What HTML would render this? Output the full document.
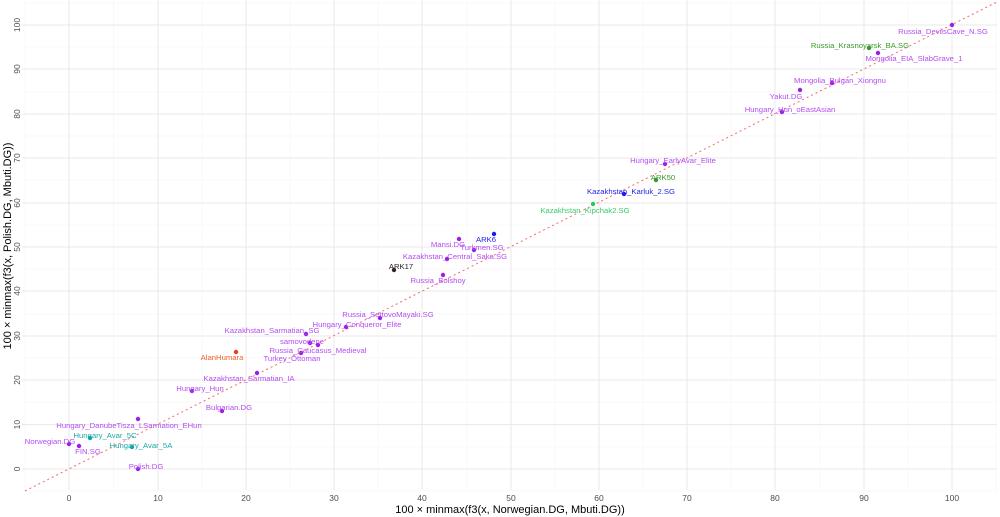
<!DOCTYPE html>
<html><head><meta charset="utf-8"><style>body{margin:0;background:#fff}svg{display:block}</style></head><body>
<svg width="1000" height="517" xmlns="http://www.w3.org/2000/svg" font-family="Liberation Sans, sans-serif">
<rect width="1000" height="517" fill="#fff"/>
<g stroke="#f3f3f3" stroke-width="0.6">
<line x1="25" y1="0" x2="25" y2="490"/><line x1="113.5" y1="0" x2="113.5" y2="490"/><line x1="202" y1="0" x2="202" y2="490"/><line x1="290" y1="0" x2="290" y2="490"/><line x1="378" y1="0" x2="378" y2="490"/><line x1="467" y1="0" x2="467" y2="490"/><line x1="555" y1="0" x2="555" y2="490"/><line x1="643" y1="0" x2="643" y2="490"/><line x1="731" y1="0" x2="731" y2="490"/><line x1="820" y1="0" x2="820" y2="490"/><line x1="908" y1="0" x2="908" y2="490"/><line x1="996" y1="0" x2="996" y2="490"/>
<line x1="22" y1="491" x2="997" y2="491"/><line x1="22" y1="447" x2="997" y2="447"/><line x1="22" y1="402" x2="997" y2="402"/><line x1="22" y1="358" x2="997" y2="358"/><line x1="22" y1="314" x2="997" y2="314"/><line x1="22" y1="269" x2="997" y2="269"/><line x1="22" y1="225" x2="997" y2="225"/><line x1="22" y1="180" x2="997" y2="180"/><line x1="22" y1="136" x2="997" y2="136"/><line x1="22" y1="92" x2="997" y2="92"/><line x1="22" y1="47" x2="997" y2="47"/><line x1="22" y1="3" x2="997" y2="3"/>
</g>
<g stroke="#e8e8e8" stroke-width="1">
<line x1="69" y1="0" x2="69" y2="490"/><line x1="158" y1="0" x2="158" y2="490"/><line x1="246" y1="0" x2="246" y2="490"/><line x1="334" y1="0" x2="334" y2="490"/><line x1="422" y1="0" x2="422" y2="490"/><line x1="511" y1="0" x2="511" y2="490"/><line x1="599" y1="0" x2="599" y2="490"/><line x1="687" y1="0" x2="687" y2="490"/><line x1="775" y1="0" x2="775" y2="490"/><line x1="864" y1="0" x2="864" y2="490"/><line x1="952" y1="0" x2="952" y2="490"/>
<line x1="22" y1="469" x2="997" y2="469"/><line x1="22" y1="424.6" x2="997" y2="424.6"/><line x1="22" y1="380" x2="997" y2="380"/><line x1="22" y1="336" x2="997" y2="336"/><line x1="22" y1="291" x2="997" y2="291"/><line x1="22" y1="247" x2="997" y2="247"/><line x1="22" y1="203" x2="997" y2="203"/><line x1="22" y1="158" x2="997" y2="158"/><line x1="22" y1="114" x2="997" y2="114"/><line x1="22" y1="69" x2="997" y2="69"/><line x1="22" y1="25" x2="997" y2="25"/>
</g>
<line x1="25" y1="491" x2="997" y2="2" stroke="#f26b6b" stroke-width="1" stroke-dasharray="2,3"/>
<g font-size="8.5" fill="#4d4d4d" text-anchor="middle">
<text x="69" y="501">0</text><text x="158" y="501">10</text><text x="246" y="501">20</text><text x="334" y="501">30</text><text x="422" y="501">40</text><text x="511" y="501">50</text><text x="599" y="501">60</text><text x="687" y="501">70</text><text x="775" y="501">80</text><text x="864" y="501">90</text><text x="952" y="501">100</text>
</g>
<g font-size="8.5" fill="#4d4d4d" text-anchor="middle">
<text transform="translate(20,469) rotate(-90)">0</text><text transform="translate(20,424.6) rotate(-90)">10</text><text transform="translate(20,380) rotate(-90)">20</text><text transform="translate(20,336) rotate(-90)">30</text><text transform="translate(20,291) rotate(-90)">40</text><text transform="translate(20,247) rotate(-90)">50</text><text transform="translate(20,203) rotate(-90)">60</text><text transform="translate(20,158) rotate(-90)">70</text><text transform="translate(20,114) rotate(-90)">80</text><text transform="translate(20,69) rotate(-90)">90</text><text transform="translate(20,25) rotate(-90)">100</text>
</g>
<text x="510" y="513" font-size="11" text-anchor="middle" fill="#000">100 × minmax(f3(x, Norwegian.DG, Mbuti.DG))</text>
<text transform="translate(11,246) rotate(-90)" font-size="11" text-anchor="middle" fill="#000">100 × minmax(f3(x, Polish.DG, Mbuti.DG))</text>
<g fill="#9b1fe8">
<circle cx="69" cy="444" r="2.2"/><circle cx="79" cy="446" r="2.2"/><circle cx="138" cy="469" r="2.2"/><circle cx="138" cy="419" r="2.2"/><circle cx="192" cy="391" r="2.2"/><circle cx="222" cy="411" r="2.2"/><circle cx="257" cy="373" r="2.2"/><circle cx="301" cy="353" r="2.2"/><circle cx="318" cy="345" r="2.2"/><circle cx="310" cy="343" r="2.2"/><circle cx="306" cy="334" r="2.2"/><circle cx="346" cy="327" r="2.2"/><circle cx="380" cy="318" r="2.2"/><circle cx="443" cy="275" r="2.2"/><circle cx="447" cy="259" r="2.2"/><circle cx="474" cy="250" r="2.2"/><circle cx="459" cy="239" r="2.2"/><circle cx="665" cy="164" r="2.2"/><circle cx="782" cy="112" r="2.2"/><circle cx="800" cy="90" r="2.2"/><circle cx="832" cy="83" r="2.2"/><circle cx="878" cy="53" r="2.2"/><circle cx="952" cy="25" r="2.2"/>
</g>
<circle cx="90" cy="438" r="2.2" fill="#11a0a0"/><circle cx="132" cy="447" r="2.2" fill="#11a0a0"/>
<circle cx="236" cy="352" r="2.2" fill="#f03a10"/>
<circle cx="394" cy="270" r="2.2" fill="#3a2020"/>
<circle cx="494" cy="234" r="2.2" fill="#1a1aee"/><circle cx="624" cy="194" r="2.2" fill="#1a1aee"/>
<circle cx="593" cy="204" r="2.2" fill="#22cc55"/>
<circle cx="656" cy="180" r="2.2" fill="#33992a"/><circle cx="869" cy="48" r="2.2" fill="#33992a"/>
<g font-size="7.7" fill="#b54cf2" text-anchor="middle">
<text x="50" y="444">Norwegian.DG</text><text x="88" y="454">FIN.SG</text><text x="146" y="469">Polish.DG</text><text x="129" y="428">Hungary_DanubeTisza_LSarmation_EHun</text><text x="200" y="391">Hungary_Hun</text><text x="229" y="410">Bulgarian.DG</text><text x="249" y="381">Kazakhstan_Sarmatian_IA</text><text x="292" y="361">Turkey_Ottoman</text><text x="318" y="353">Russia_Caucasus_Medieval</text><text x="302" y="344">samovodene</text><text x="272" y="333">Kazakhstan_Sarmatian_SG</text><text x="357" y="327">Hungary_Conqueror_Elite</text><text x="388" y="317">Russia_SettovoMayaki.SG</text><text x="438" y="283">Russia_Bolshoy</text><text x="455" y="259">Kazakhstan_Central_Saka.SG</text><text x="482" y="250">Turkmen.SG</text><text x="448" y="247">Mansi.DG</text><text x="673" y="163">Hungary_EarlyAvar_Elite</text><text x="790" y="112">Hungary_Hun_oEastAsian</text><text x="786" y="99">Yakut.DG</text><text x="840" y="83">Mongolia_Bulgan_Xiongnu</text><text x="914" y="61">Mongolia_EIA_SlabGrave_1</text><text x="943" y="34">Russia_DevilsCave_N.SG</text>
</g>
<g font-size="7.7" text-anchor="middle">
<text x="105" y="438" fill="#20a8a8">Hungary_Avar_5C</text><text x="141" y="448" fill="#20a8a8">Hungary_Avar_5A</text>
<text x="222" y="360" fill="#f5602a">AlanHumara</text>
<text x="401" y="269" fill="#222">ARK17</text>
<text x="486" y="242" fill="#2222ee">ARK6</text><text x="631" y="194" fill="#2222ee">Kazakhstan_Karluk_2.SG</text>
<text x="585" y="213" fill="#3acc6a">Kazakhstan_Kipchak2.SG</text>
<text x="663" y="180" fill="#3a9a2a">ARK50</text><text x="860" y="48" fill="#3a9a2a">Russia_Krasnoyarsk_BA.SG</text>
</g>
</svg>
</body></html>
